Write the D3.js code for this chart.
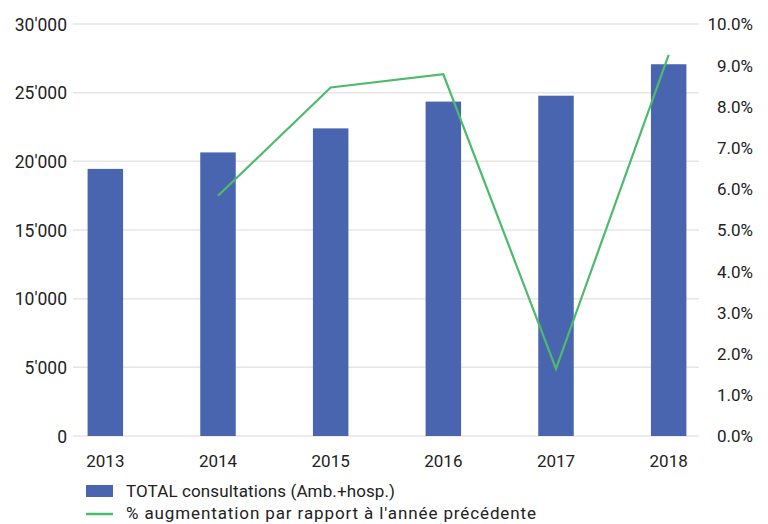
<!DOCTYPE html>
<html>
<head>
<meta charset="utf-8">
<script src="https://cdn.jsdelivr.net/npm/d3@7"></script>
<style>
  body { margin: 0; background: #fff; }
  svg text { font-family: Roboto, "Liberation Sans", sans-serif; fill: #222; }
</style>
</head>
<body>
<div id="chart"></div>
<script>
const years = ["2013", "2014", "2015", "2016", "2017", "2018"];
const consultations = [19450, 20650, 22400, 24350, 24780, 27070];
const growth = [null, 5.83, 8.46, 8.78, 1.63, 9.25];
const leftTicks = [0, 5000, 10000, 15000, 20000, 25000, 30000];
const rightTicks = [0, 1, 2, 3, 4, 5, 6, 7, 8, 9, 10];
const legendLabels = ["TOTAL consultations (Amb.+hosp.)", "% augmentation par rapport à l'année précédente"];
const legendWidths = [269, 410];

const W = 768, H = 524;
const plotTop = 24, plotBottom = 436;
const gridLeft = 73, gridRight = 699;

const svg = d3.select("#chart").append("svg")
  .attr("width", W).attr("height", H);

const x = d3.scaleBand()
  .domain(years)
  .range([49, 725])
  .paddingInner(0.685)
  .paddingOuter(0.3425);

const y = d3.scaleLinear().domain([0, 30000]).range([plotBottom, plotTop]);
const y2 = d3.scaleLinear().domain([0, 10]).range([plotBottom, plotTop]);

// gridlines
svg.append("g")
  .selectAll("line")
  .data(leftTicks)
  .enter().append("line")
  .attr("x1", gridLeft).attr("x2", gridRight)
  .attr("y1", d => y(d)).attr("y2", d => y(d))
  .attr("stroke", "#e8e6e4").attr("stroke-width", 1.5);

// left axis
const fmt = d => d3.format(",")(d).replace(/,/g, "'");
const leftAxis = svg.append("g")
  .attr("transform", `translate(${gridLeft - 6},0)`)
  .call(d3.axisLeft(y).tickValues(leftTicks).tickFormat(fmt).tickSize(0).tickPadding(0));
leftAxis.select(".domain").remove();
leftAxis.selectAll("text").style("font-size", "17.5px").attr("dy", "0.35em");

// right axis
const rightAxis = svg.append("g")
  .attr("transform", `translate(753,0)`)
  .call(d3.axisLeft(y2).tickValues(rightTicks).tickFormat(d => d.toFixed(1) + "%").tickSize(0).tickPadding(0));
rightAxis.select(".domain").remove();
rightAxis.selectAll("text").style("font-size", "17px").attr("dy", "0.35em");

// bars
svg.selectAll(".bar")
  .data(years)
  .enter().append("rect")
  .attr("class", "bar")
  .attr("x", d => x(d))
  .attr("y", (d, i) => y(consultations[i]))
  .attr("width", x.bandwidth())
  .attr("height", (d, i) => plotBottom - y(consultations[i]))
  .attr("fill", "#4a65b0");

// x labels
const xAxis = svg.append("g")
  .attr("transform", `translate(0,${plotBottom})`)
  .call(d3.axisBottom(x).tickSize(0).tickPadding(19));
xAxis.select(".domain").remove();
xAxis.selectAll("text").style("font-size", "17px");

// line
const lineData = years.map((yr, i) => ({ yr, v: growth[i] })).filter(d => d.v !== null);
svg.append("path")
  .datum(lineData)
  .attr("fill", "none")
  .attr("stroke", "#4dbb6b")
  .attr("stroke-width", 2.2)
  .attr("d", d3.line().x(d => x(d.yr) + x.bandwidth() / 2).y(d => y2(d.v)));

// legend
const legend = svg.append("g").attr("transform", "translate(86,0)");
legend.append("rect")
  .attr("x", 0).attr("y", 485).attr("width", 27).attr("height", 12)
  .attr("fill", "#4a65b0");
legend.append("line")
  .attr("x1", 0).attr("x2", 27).attr("y1", 514).attr("y2", 514)
  .attr("stroke", "#4dbb6b").attr("stroke-width", 2.5);
legend.selectAll(".lt")
  .data(legendLabels)
  .enter().append("text")
  .attr("x", 40)
  .attr("y", (d, i) => 491 + i * 22)
  .attr("dy", "0.35em")
  .attr("textLength", (d, i) => legendWidths[i])
  .attr("lengthAdjust", "spacing")
  .style("font-size", "17px")
  .text(d => d);
</script>
</body>
</html>
